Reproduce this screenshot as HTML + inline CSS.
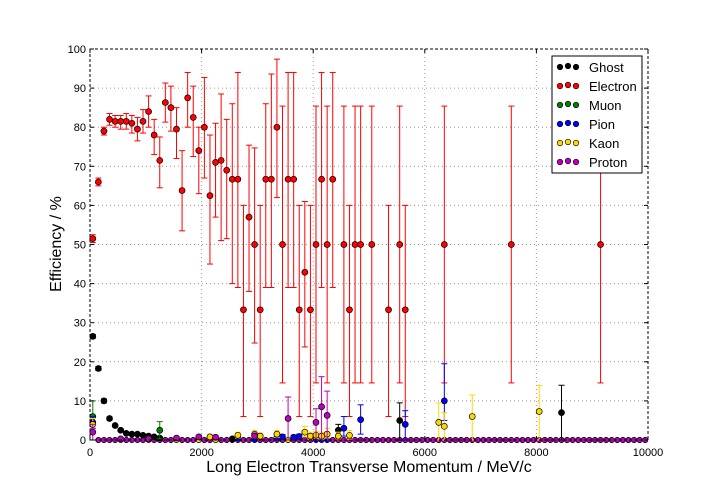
<!DOCTYPE html>
<html><head><meta charset="utf-8"><style>
html,body{margin:0;padding:0;background:#fff;}
svg{display:block;font-family:"Liberation Sans",sans-serif;}
</style></head><body>
<svg id="chart" width="720" height="504">
<rect width="720" height="504" fill="#fff"/>
<g id="grid"></g>
<g id="zeros"></g>
<g id="series"></g>
<rect x="90" y="49" width="558" height="391" fill="none" stroke="#000" stroke-width="1" stroke-dasharray="3,2"/>
<g id="axes"></g>
<text x="369" y="472" text-anchor="middle" font-size="16">Long Electron Transverse Momentum / MeV/c</text>
<text transform="translate(61,244) rotate(-90)" text-anchor="middle" font-size="16">Efficiency / %</text>
<g id="legend"></g>
</svg>
<script>
const xTicks=[0,2000,4000,6000,8000,10000];
const yTicks=[0,10,20,30,40,50,60,70,80,90,100];
const speciesNames=["Ghost","Electron","Muon","Pion","Kaon","Proton"];
const speciesColors=["#000000","#ff0000","#008000","#0000ff","#ffd700","#bf00bf"];
// [momentum, efficiency, errLow, errHigh]
const ghostPts=[[50,26.5,0.5,0.5],[150,18.3,0.5,0.5],[250,10,0.5,0.5],[350,5.5,0.4,0.4],[450,3.7,0.3,0.3],[550,2.5,0.3,0.3],[650,1.7,0.2,0.2],[750,1.5,0.2,0.2],[850,1.5,0.2,0.2],[950,1.2,0.2,0.2],[1050,1,0.2,0.2],[1150,0.8,0.2,0.2],[1250,0.5,0.2,0.2],[2550,0.3,0.2,0.2],[4450,2.5,1.5,1.5],[5550,5,5,4.5],[8450,7,7,7]];
const electronPts=[[50,51.5,1,1],[150,66,1,1],[250,79,1,1],[350,82,1.5,1.5],[450,81.5,1.5,1.5],[550,81.5,2,1.5],[650,81.5,2,2],[750,81,2.5,2],[850,79.5,3,3],[950,81.5,3,3],[1050,84,4,4],[1150,78,5,4],[1250,71.5,7,6],[1350,86.3,5,5],[1450,85,6,5.5],[1550,79.5,7.5,5.5],[1650,63.8,10.3,10.2],[1750,87.5,7.5,6.5],[1850,82.5,10,8],[1950,74,11,6],[2050,80,13,12.7],[2150,62.5,17.5,15.5],[2250,71,14,10],[2350,71.5,20.5,17],[2450,69,17.5,13],[2550,66.7,26.7,19.3],[2650,66.7,27.7,27.3],[2750,33.3,27.3,26.7],[2850,57,19,18.4],[2950,50,25.2,24.7],[3050,33.3,27.3,26.7],[3150,66.7,27.7,19.3],[3250,66.7,27.7,26.9],[3350,80,18,17.4],[3450,50,35.4,35.4],[3550,66.7,27.7,27.3],[3650,66.7,27.7,27.3],[3750,33.3,27.3,26.7],[3850,42.9,19.1,18.1],[3950,33.3,27.3,26.7],[4050,50,35.4,35.4],[4150,66.7,27.7,27.3],[4250,50,35.4,35.4],[4350,66.7,27.7,27.3],[4550,50,35.4,35.4],[4650,33.3,27.3,26.7],[4750,50,35.4,35.4],[4850,50,35.4,35.4],[5050,50,35.4,35.4],[5350,33.3,27.3,26.7],[5550,50,35.4,35.4],[5650,33.3,27.3,26.7],[6350,50,35.4,35.4],[7550,50,35.4,35.4],[9150,50,35.4,35.4]];
const muonPts=[[50,6,4,4],[1250,2.5,2.2,2.2]];
const pionPts=[[50,4.5,1.5,1.5],[2650,0.5,0.3,0.3],[3350,0.6,0.3,0.5],[3450,0.8,0.4,0.6],[3650,0.7,0.4,0.5],[3750,0.9,0.5,0.6],[4550,3,2,3],[4850,5.2,3.7,3.8],[5650,4,4,3.5],[6350,10,5,9.5]];
const kaonPts=[[50,4,1.5,1.5],[2150,0.8,0.5,0.5],[2650,1.2,0.7,0.8],[2950,1.5,0.8,1],[3050,1,0.6,0.8],[3350,1.5,0.8,1],[3850,2,1.2,1.5],[3950,1,0.8,1],[4050,1.2,0.8,1],[4150,1,0.8,1],[4250,1.5,1,1.5],[4450,1,0.8,1],[4650,1.2,1,1.2],[6250,4.5,4.5,5],[6350,3.5,3.5,3.5],[6850,6,6,5.5],[8050,7.3,7.3,6.7]];
const protonPts=[[50,2,2,2],[550,0.3,0.2,0.2],[1050,0.3,0.2,0.2],[1550,0.5,0.3,0.3],[1950,0.8,0.4,0.4],[2250,0.7,0.4,0.4],[2950,1,0.6,0.8],[3550,5.5,5.5,5.5],[4050,4.5,4.5,3.5],[4150,8.5,8.5,7.7],[4250,6.3,6.3,6.2]];
const allSeries=[ghostPts,electronPts,muonPts,pionPts,kaonPts,protonPts];

const NS="http://www.w3.org/2000/svg";
const X0=90,X1=648,Y0=440,Y1=49;
function xs(v){return X0+(v/10000)*(X1-X0);}
function ys(v){return Y0-(v/100)*(Y0-Y1);}
function mk(tag,attrs,parent){const e=document.createElementNS(NS,tag);for(const k in attrs)e.setAttribute(k,attrs[k]);parent.appendChild(e);return e;}
const grid=document.getElementById('grid'),axes=document.getElementById('axes'),zeros=document.getElementById('zeros'),series=document.getElementById('series'),legend=document.getElementById('legend');
xTicks.forEach(t=>{
  const x=xs(t);
  if(t>0&&t<10000){const g=mk('line',{x1:x,x2:x,y1:Y1,y2:Y0,stroke:'#999','stroke-dasharray':'1,3'},grid);
  
  }
  const l=mk('text',{x:x,y:456,'text-anchor':'middle','font-size':'11'},axes);l.textContent=t;
  
  
  mk('line',{x1:x,x2:x,y1:Y0,y2:Y0-4,stroke:'#000'},axes);
  mk('line',{x1:x,x2:x,y1:Y1,y2:Y1+4,stroke:'#000'},axes);
});
yTicks.forEach(t=>{
  const y=ys(t);
  if(t>0&&t<100){const g=mk('line',{x1:X0,x2:X1,y1:y,y2:y,stroke:'#999','stroke-dasharray':'1,3'},grid);
  
  }
  const l=mk('text',{x:86,y:y+4,'text-anchor':'end','font-size':'11'},axes);l.textContent=t;
  
  
  mk('line',{x1:X0,x2:X0+4,y1:y,y2:y,stroke:'#000'},axes);
  mk('line',{x1:X1,x2:X1-4,y1:y,y2:y,stroke:'#000'},axes);
});
// zero-efficiency bins for every species
allSeries.forEach((pts,si)=>{
  const have=new Set(pts.map(p=>p[0]));
  for(let b=50;b<10000;b+=100){
    if(have.has(b))continue;
    const c=mk('circle',{cx:xs(b),cy:ys(0),r:2.6,fill:speciesColors[si],stroke:'#000','stroke-width':0.6},zeros);
    
    
  }
});
allSeries.forEach((pts,si)=>{
  const col=speciesColors[si];
  const g=mk('g',{},series);
  
  
  pts.forEach(p=>{
    const x=xs(p[0]),y=ys(p[1]),yl=ys(Math.max(0,p[1]-p[2])),yh=ys(Math.min(100,p[1]+p[3]));
    mk('line',{x1:x,x2:x,y1:yl,y2:yh,stroke:col,'stroke-width':1},g);
    mk('line',{x1:x-3,x2:x+3,y1:yl,y2:yl,stroke:col,'stroke-width':1},g);
    mk('line',{x1:x-3,x2:x+3,y1:yh,y2:yh,stroke:col,'stroke-width':1},g);
    const c=mk('circle',{cx:x,cy:y,r:3,fill:col,stroke:'#000','stroke-width':0.7},g);
    
    
  });
});
const lb=mk('rect',{x:552,y:56,width:90,height:117,fill:'#fff',stroke:'#000','stroke-width':1},legend);


speciesNames.forEach((n,i)=>{
  const y=67+i*19;
  const g=mk('g',{},legend);
  
  
  [560,568,576].forEach((x,k)=>mk('circle',{cx:x,cy:k==1?y-1:y,r:2.8,fill:speciesColors[i],stroke:'#000','stroke-width':0.6},g));
  const t=mk('text',{x:589,y:y+5,'font-size':'13'},g);t.textContent=n;
});
</script>
</body></html>
